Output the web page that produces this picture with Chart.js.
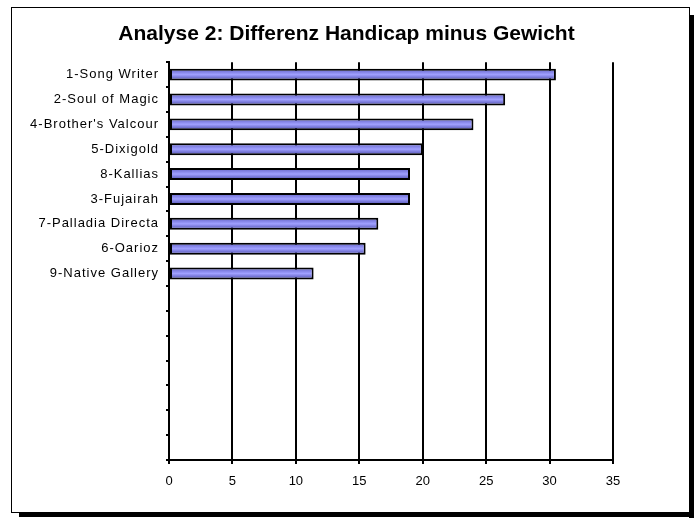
<!DOCTYPE html>
<html>
<head>
<meta charset="utf-8">
<script src="https://cdn.jsdelivr.net/npm/chart.js@4/dist/chart.umd.min.js"></script>
<style>
  html, body { margin: 0; padding: 0; background: #fff; }
  #c { display: block; }
</style>
</head>
<body>
<canvas id="c" width="700" height="518"></canvas>
<script>
// Daten
const pferde = ['1-Song Writer', '2-Soul of Magic', "4-Brother's Valcour", '5-Dixigold', '8-Kallias',
                '3-Fujairah', '7-Palladia Directa', '6-Oarioz', '9-Native Gallery',
                '', '', '', '', '', '', ''];
const differenz = [30.5, 26.5, 24.0, 20.0, 19.0, 19.0, 16.5, 15.5, 11.4];
const xTicks = [0, 5, 10, 15, 20, 25, 30, 35];

const schrift = "'Liberation Sans', Arial, sans-serif";

// Rahmen mit Schatten wie im Excel-Diagramm
const rahmen = {
    id: 'rahmen',
    beforeDraw(chart) {
        const c = chart.ctx;
        c.save();
        c.fillStyle = '#fff';
        c.fillRect(0, 0, chart.width, chart.height);
        c.fillStyle = '#000';
        c.fillRect(689, 15, 5, 503);
        c.fillRect(19, 512, 675, 5);
        c.strokeStyle = '#000';
        c.lineWidth = 1;
        c.strokeRect(11.5, 7.5, 678, 505);
        c.restore();
    }
};

function balkenFarbe(context) {
    const chart = context.chart;
    const y = chart.scales.y;
    if (!y || context.dataIndex === undefined) return '#9090f0';
    const mitte = y.getPixelForValue(context.dataIndex);
    if (!isFinite(mitte)) return '#9090f0';
    const g = chart.ctx.createLinearGradient(0, mitte - 6, 0, mitte + 6);
    g.addColorStop(0, '#6060c0');
    g.addColorStop(0.3, '#8686e8');
    g.addColorStop(0.5, '#a0a0ff');
    g.addColorStop(0.75, '#7474d4');
    g.addColorStop(1, '#5555b0');
    return g;
}

new Chart(document.getElementById('c'), {
    type: 'bar',
    data: {
        labels: pferde,
        datasets: [{
            data: differenz,
            backgroundColor: balkenFarbe,
            borderColor: '#000',
            borderWidth: 2,
            borderSkipped: false,
            barPercentage: 1,
            categoryPercentage: 0.48
        }]
    },
    plugins: [rahmen],
    options: {
        indexAxis: 'y',
        responsive: false,
        animation: false,
        layout: { padding: { top: 22, left: 0, right: 7, bottom: 0 } },
        plugins: {
            legend: { display: false },
            tooltip: { enabled: false },
            title: {
                display: true,
                text: 'Analyse 2: Differenz Handicap minus Gewicht',
                color: '#000',
                font: { family: schrift, size: 21, weight: 'bold' },
                padding: { top: 0, bottom: 15 }
            }
        },
        scales: {
            x: {
                min: 0,
                max: 35,
                afterBuildTicks(scale) { scale.ticks = xTicks.map(v => ({ value: v })); },
                afterFit(scale) { scale.height = 58; },
                ticks: { color: '#000', font: { family: schrift, size: 13 }, padding: 10 },
                grid: { color: '#000', lineWidth: 2, tickLength: 4 },
                border: { color: '#000', width: 2 }
            },
            y: {
                afterFit(scale) {
                    scale.width = 169;
                    // etwas Zeichenabstand wie im Original
                    if (!scale._gesperrt) {
                        const orig = scale.drawLabels;
                        scale.drawLabels = function (area) {
                            const c = this.ctx;
                            c.save();
                            c.letterSpacing = '1px';
                            orig.call(this, area);
                            c.restore();
                        };
                        scale._gesperrt = true;
                    }
                },
                ticks: { color: '#000', font: { family: schrift, size: 13 }, padding: 7, autoSkip: false },
                grid: { color: '#000', lineWidth: 2, tickLength: 3, drawOnChartArea: false },
                border: { color: '#000', width: 2 }
            },
            // leerer Platzhalter rechts, damit der Titel mittig im Rahmen sitzt
            rechts: {
                type: 'linear',
                position: 'right',
                afterFit(scale) { scale.width = 80; },
                ticks: { display: false },
                grid: { display: false },
                border: { display: false }
            }
        }
    }
});
</script>
</body>
</html>
